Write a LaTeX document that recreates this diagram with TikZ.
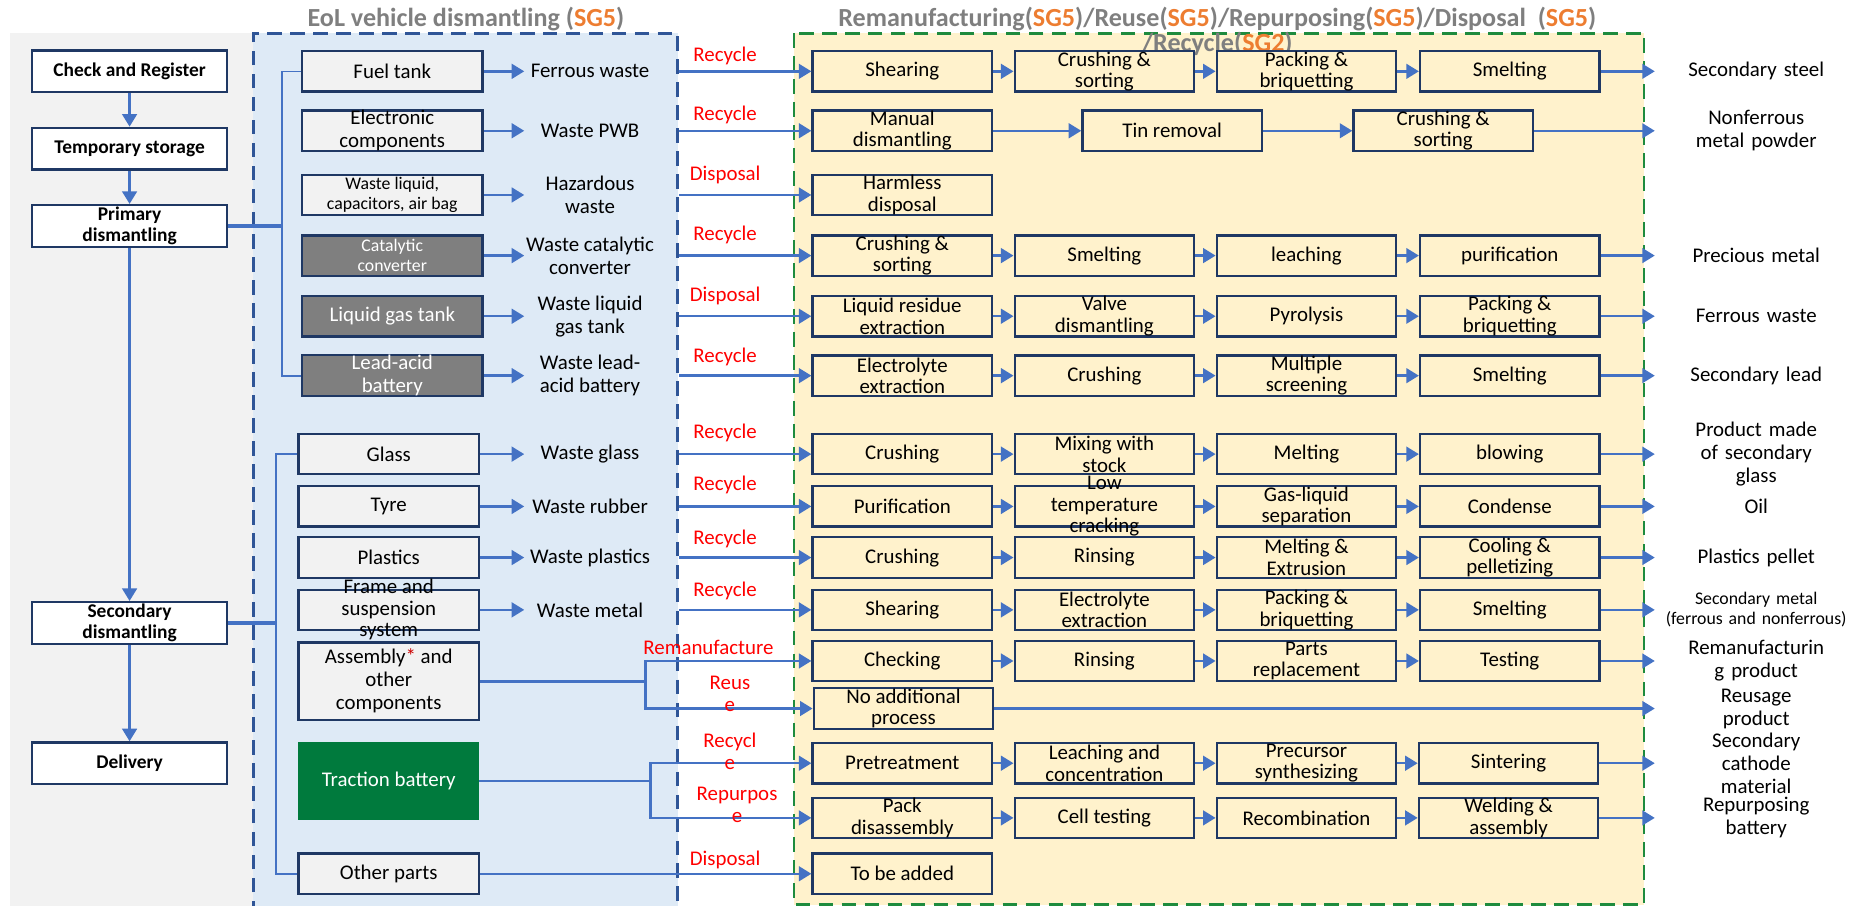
\documentclass[tikz,border=0pt]{standalone}
\usepackage{fontspec}
\setmainfont{Carlito}
\usepackage{xcolor}
\usetikzlibrary{arrows.meta}

\definecolor{navy}{HTML}{1F3864}
\definecolor{flowblue}{HTML}{4472C4}
\definecolor{panelblue}{HTML}{DEEAF6}
\definecolor{panelgrey}{HTML}{F2F2F2}
\definecolor{paneltan}{HTML}{FFF2CC}
\definecolor{dashblue}{HTML}{2F5597}
\definecolor{dashgreen}{HTML}{1E8B3E}
\definecolor{partdark}{HTML}{7F7F7F}
\definecolor{tractiongreen}{HTML}{007A3D}
\definecolor{sgorange}{HTML}{ED7D31}
\definecolor{headgrey}{HTML}{7F7F7F}

\tikzset{
  stage/.style={draw=navy, line width=1.1pt, fill=white, minimum width=3.28cm, minimum height=0.70cm,
    inner sep=0pt, align=center, font=\bfseries\fontsize{9.3}{9.8}\selectfont},
  part/.style={draw=navy, line width=1.1pt, fill=panelgrey, minimum width=3.04cm, minimum height=0.68cm,
    inner sep=0pt, align=center, font=\fontsize{10}{11}\selectfont},
  darkpart/.style={part, fill=partdark, text=white},
  waste/.style={anchor=west, minimum width=2.2cm, inner sep=0pt, align=center, font=\fontsize{10}{11}\selectfont},
  proc/.style={draw=navy, line width=1.1pt, fill=paneltan, minimum width=3.02cm, minimum height=0.68cm,
    inner sep=0pt, align=center, font=\fontsize{10}{10.3}\selectfont},
  overtext/.style={label={[align=center, inner sep=0pt, font=\fontsize{10}{10.3}\selectfont]center:#1}},
  product/.style={anchor=west, text width=3.4cm, inner sep=0pt, align=center, font=\fontsize{10}{11}\selectfont},
  route/.style={text=red, inner sep=0pt, align=center, font=\fontsize{10}{10.5}\selectfont},
  flow/.style={draw=flowblue, line width=1.2pt, -{Triangle[length=6pt,width=7pt]}},
  bus/.style={draw=flowblue, line width=0.8pt},
  feed/.style={draw=flowblue, line width=2pt},
  small/.style={font=\fontsize{8.5}{9.5}\selectfont},
}

\begin{document}
\begin{tikzpicture}[x=0.02cm,y=-0.02cm]
\useasboundingbox (0,0) rectangle (1568,762);
% panels
\fill[panelgrey] (8,28) rectangle (213,762);
\fill[panelblue] (213,28) rectangle (570,762);
\fill[paneltan] (668,28) rectangle (1383,761);
\draw[dashblue, line width=1.3pt, dash pattern=on 7pt off 4pt] (213,770) -- (213,28) -- (570,28) -- (570,770);
\draw[dashgreen, line width=1.2pt, dash pattern=on 7pt off 4pt] (668,28) rectangle (1383,761);

% headers
\node[text=headgrey, font=\bfseries\fontsize{12.5}{14}\selectfont] (hdis) at (392,16)
  {EoL vehicle dismantling (\textcolor{sgorange}{SG5})};
\node[text=headgrey, align=center, font=\bfseries\fontsize{12.5}{12}\selectfont] (hrem) at (1024,26)
  {Remanufacturing(\textcolor{sgorange}{SG5})/Reuse(\textcolor{sgorange}{SG5})/Repurposing(\textcolor{sgorange}{SG5})/Disposal\ \ (\textcolor{sgorange}{SG5})\\
   /Recycle(\textcolor{sgorange}{SG2})};

% stages
\node[stage] (check) at (109,60) {Check and Register};
\node[stage] (temp) at (109,125) {Temporary storage};
\node[stage] (prim) at (109,190) {Primary\\dismantling};
\node[stage] (sec) at (109,524) {Secondary\\dismantling};
\node[stage] (deliv) at (109,642) {Delivery};
\draw[flow] (check) -- (temp);
\draw[flow] (temp) -- (prim);
\draw[flow] (prim) -- (sec);
\draw[flow] (sec) -- (deliv);

% primary dismantling parts
\node[part] (fuel) at (330,60) {Fuel tank};
\node[part] (elec) at (330,110) {Electronic\\components};
\node[part, small] (liq) at (330,164) {Waste liquid,\\capacitors, air bag};
\node[darkpart, small] (cat) at (330,215) {Catalytic\\converter};
\node[darkpart] (lpg) at (330,266) {Liquid gas tank};
\node[darkpart] (lead) at (330,316) {Lead-acid\\battery};
\node[waste] (wfuel) at (441,60) {Ferrous waste};
\node[waste] (welec) at (441,110) {Waste PWB};
\node[waste] (wliq) at (441,164) {Hazardous\\waste};
\node[waste] (wcat) at (441,215) {Waste catalytic\\converter};
\node[waste] (wlpg) at (441,266) {Waste liquid\\gas tank};
\node[waste] (wlead) at (441,316) {Waste lead-\\acid battery};
\foreach \p/\w in {fuel/wfuel, elec/welec, liq/wliq, cat/wcat, lpg/wlpg, lead/wlead}
  \draw[flow] (\p) -- (\w);
\coordinate (pj) at (237,190);
\draw[feed] (prim.east) -- (pj);
\draw[bus] (fuel.west) -| (pj) |- (lead.west);

% secondary dismantling parts
\node[part] (glass) at (327,382) {Glass};
\node[part] (tyre) at (327,426) {Tyre};
\node[part] (plast) at (327,469) {Plastics};
\node[part, overtext={Frame and\\suspension\\system}] (frame) at (327,513) {};
\node[part, minimum height=1.3cm] (asm) at (327,573) {Assembly{\color{red!80!black}*} and\\other\\components};
\node[fill=tractiongreen, text=white, minimum width=3.04cm, minimum height=1.3cm, inner sep=0pt,
  font=\fontsize{10}{11}\selectfont] (trac) at (327,657) {Traction battery};
\node[part] (other) at (327,735) {Other parts};
\node[waste] (wglass) at (441,382) {Waste glass};
\node[waste] (wtyre) at (441,426) {Waste rubber};
\node[waste] (wplast) at (441,469) {Waste plastics};
\node[waste] (wframe) at (441,513) {Waste metal};
\foreach \p/\w in {glass/wglass, tyre/wtyre, plast/wplast, frame/wframe}
  \draw[flow] (\p) -- (\w);
\coordinate (sj) at (232,524);
\draw[feed] (sec.east) -- (sj);
\draw[bus] (glass.west) -| (sj) |- (other.west);

% process steps
\node[proc] (a1) at (759,60) {Shearing};
\node[proc] (b1) at (929,60) {Crushing \&\\sorting};
\node[proc] (c1) at (1099,60) {Packing \&\\briquetting};
\node[proc] (d1) at (1270,60) {Smelting};
\node[proc] (a2) at (759,110) {Manual\\dismantling};
\node[proc] (b2) at (986,110) {Tin removal};
\node[proc] (c2) at (1214,110) {Crushing \&\\sorting};
\node[proc] (a3) at (759,164) {Harmless\\disposal};
\node[proc] (a4) at (759,215) {Crushing \&\\sorting};
\node[proc] (b4) at (929,215) {Smelting};
\node[proc] (c4) at (1099,215) {leaching};
\node[proc] (d4) at (1270,215) {purification};
\node[proc] (a5) at (759,266) {Liquid residue\\extraction};
\node[proc] (b5) at (929,266) {Valve\\dismantling};
\node[proc] (c5) at (1099,266) {Pyrolysis};
\node[proc] (d5) at (1270,266) {Packing \&\\briquetting};
\node[proc] (a6) at (759,316) {Electrolyte\\extraction};
\node[proc] (b6) at (929,316) {Crushing};
\node[proc] (c6) at (1099,316) {Multiple\\screening};
\node[proc] (d6) at (1270,316) {Smelting};
\node[proc] (a7) at (759,382) {Crushing};
\node[proc] (b7) at (929,382) {Mixing with\\stock};
\node[proc] (c7) at (1099,382) {Melting};
\node[proc] (d7) at (1270,382) {blowing};
\node[proc] (a8) at (759,426) {Purification};
\node[proc, overtext={Low\\temperature\\cracking}] (b8) at (929,426) {};
\node[proc] (c8) at (1099,426) {Gas-liquid\\separation};
\node[proc] (d8) at (1270,426) {Condense};
\node[proc] (a9) at (759,469) {Crushing};
\node[proc] (b9) at (929,469) {Rinsing};
\node[proc] (c9) at (1099,469) {Melting \&\\Extrusion};
\node[proc] (d9) at (1270,469) {Cooling \&\\pelletizing};
\node[proc] (a10) at (759,513) {Shearing};
\node[proc] (b10) at (929,513) {Electrolyte\\extraction};
\node[proc] (c10) at (1099,513) {Packing \&\\briquetting};
\node[proc] (d10) at (1270,513) {Smelting};
\node[proc] (a11) at (759,556) {Checking};
\node[proc] (b11) at (929,556) {Rinsing};
\node[proc] (c11) at (1099,556) {Parts\\replacement};
\node[proc] (d11) at (1270,556) {Testing};
\node[proc] (a12) at (760,596) {No additional\\process};
\node[proc] (a13) at (759,642) {Pretreatment};
\node[proc] (b13) at (929,642) {Leaching and\\concentration};
\node[proc] (c13) at (1099,642) {Precursor\\synthesizing};
\node[proc] (d13) at (1269,642) {Sintering};
\node[proc] (a14) at (759,688) {Pack\\disassembly};
\node[proc] (b14) at (929,688) {Cell testing};
\node[proc] (c14) at (1099,688) {Recombination};
\node[proc] (d14) at (1269,688) {Welding \&\\assembly};
\node[proc] (a15) at (759,735) {To be added};

% products
\node[product] (o1) at (1392,60) {Secondary steel};
\node[product] (o2) at (1392,110) {Nonferrous\\metal powder};
\node[product] (o4) at (1392,215) {Precious metal};
\node[product] (o5) at (1392,266) {Ferrous waste};
\node[product] (o6) at (1392,316) {Secondary lead};
\node[product] (o7) at (1392,382) {Product made\\of secondary\\glass};
\node[product] (o8) at (1392,426) {Oil};
\node[product] (o9) at (1392,469) {Plastics pellet};
\node[product, small] (o10) at (1392,513) {Secondary metal\\(ferrous and nonferrous)};
\node[product] (o11) at (1392,556) {Remanufacturin\\g product};
\node[product] (o12) at (1392,596) {Reusage\\product};
\node[product] (o13) at (1392,642) {Secondary\\cathode\\material};
\node[product] (o14) at (1392,688) {Repurposing\\battery};

\foreach \r in {1,4,5,6,7,8,9,10,11,13,14} {
  \draw[flow] (a\r) -- (b\r);
  \draw[flow] (b\r) -- (c\r);
  \draw[flow] (c\r) -- (d\r);
  \draw[flow] (d\r) -- (o\r);
}
\draw[flow] (a2) -- (b2);
\draw[flow] (b2) -- (c2);
\draw[flow] (c2) -- (o2);
\draw[flow] (a12) -- (o12);

% routes into the steps
\coordinate (bx) at (571,0);
\foreach \r in {1,2,3,4,5,6,7,8,9,10}
  \draw[flow] (bx |- a\r.west) -- (a\r.west);
\coordinate (aj) at (543,573);
\draw[draw=flowblue, line width=1.6pt] (asm.east) -- (aj);
\draw[flow] (aj) |- (a11.west);
\draw[flow] (aj) |- (a12.west);
\coordinate (tj) at (547,657);
\draw[bus] (trac.east) -- (tj);
\draw[flow] (tj) |- (a13.west);
\draw[flow] (tj) |- (a14.west);
\draw[flow] (other.east) -- (a15.west);

\node[route] (t1) at (610,47) {Recycle};
\node[route] (t2) at (610,97) {Recycle};
\node[route] (t3) at (610,147) {Disposal};
\node[route] (t4) at (610,198) {Recycle};
\node[route] (t5) at (610,249) {Disposal};
\node[route] (t6) at (610,300) {Recycle};
\node[route] (t7) at (610,364) {Recycle};
\node[route] (t8) at (610,408) {Recycle};
\node[route] (t9) at (610,453) {Recycle};
\node[route] (t10) at (610,497) {Recycle};
\node[route] (t11) at (596,545) {Remanufacture};
\node[route] (t12) at (614,584) {Reus\\e};
\node[route] (t13) at (614,632) {Recycl\\e};
\node[route] (t14) at (620,677) {Repurpos\\e};
\node[route] (t15) at (610,723) {Disposal};
\end{tikzpicture}
\end{document}
